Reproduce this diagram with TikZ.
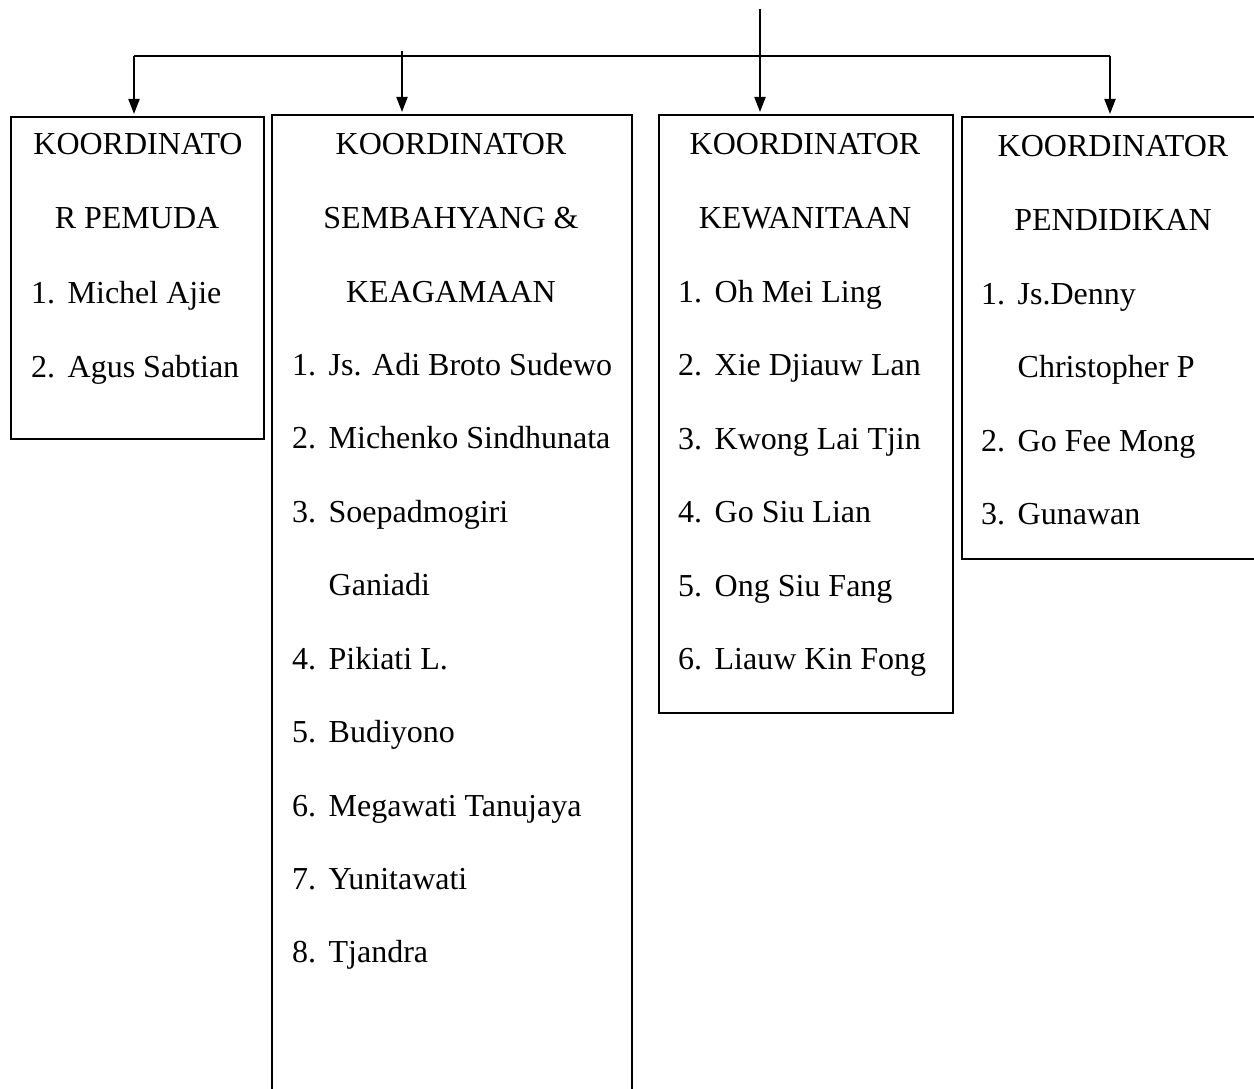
\documentclass[tikz,border=0pt]{standalone}
\usepackage{fontspec}
\setmainfont{Liberation Serif}
\usetikzlibrary{arrows.meta}
\begin{document}
\begin{tikzpicture}[x=1pt,y=-1pt,
  box/.style={draw,line width=1.8pt,anchor=north west,inner sep=0pt},
  conn/.style={line width=2pt},
  arr/.style={line width=2pt,-{Triangle[length=15pt,width=11pt]},shorten >=2pt},
  hd/.style={anchor=base,inner sep=0pt,font=\fontsize{32}{38}\selectfont},
  ln/.style={anchor=base west,inner sep=0pt,font=\fontsize{32}{38}\selectfont}]
\useasboundingbox (0,0) rectangle (1254,1089);
\clip (0,0) rectangle (1254,1089);
\newcommand{\itm}[2]{\makebox[36.5pt][l]{#1}#2}
% boxes
\node[box,minimum width=253pt,minimum height=322pt] (b1) at (10,116) {};
\node[box,minimum width=360pt,minimum height=1000pt] (b2) at (271,114) {};
\node[box,minimum width=294pt,minimum height=598pt] (b3) at (658,114) {};
\node[box,minimum width=320pt,minimum height=442pt] (b4) at (961,116) {};
% connectors
\coordinate (top) at (760,9);
\coordinate (hub) at (760,56);
\coordinate (hl) at (134,56);
\coordinate (hr) at (1110,56);
\coordinate (s2) at (402,51);
\draw[line width=1.5pt] (top) -- (hub);
\draw[conn] (hl) -- (hr);
\draw[arr] (hl) -- (hl |- b1.north);
\draw[arr] (s2) -- (s2 |- b2.north);
\draw[arr] (hub) -- (hub |- b3.north);
\draw[arr] (hr) -- (hr |- b4.north);
% box 1
\node[hd] (h11) at (138,155) {KOORDINATO};
\node[hd] (h12) at (137,229) {R PEMUDA};
\node[ln] (p11) at (31,303) {\itm{1.}{Michel Ajie}};
\node[ln] (p12) at (31,377) {\itm{2.}{Agus Sabtian}};
% box 2
\node[hd] (h21) at (451,155) {KOORDINATOR};
\node[hd] (h22) at (451,228.5) {SEMBAHYANG \&};
\node[hd] (h23) at (451,302) {KEAGAMAAN};
\node[ln] (p21) at (292,375) {\itm{1.}{Js. Adi Broto Sudewo}};
\node[ln] (p22) at (292,448.5) {\itm{2.}{Michenko Sindhunata}};
\node[ln] (p23) at (292,522) {\itm{3.}{Soepadmogiri}};
\node[ln] (p23b) at (292,595) {\itm{}{Ganiadi}};
\node[ln] (p24) at (292,669) {\itm{4.}{Pikiati L.}};
\node[ln] (p25) at (292,742) {\itm{5.}{Budiyono}};
\node[ln] (p26) at (292,816) {\itm{6.}{Megawati Tanujaya}};
\node[ln] (p27) at (292,889) {\itm{7.}{Yunitawati}};
\node[ln] (p28) at (292,962) {\itm{8.}{Tjandra}};
% box 3
\node[hd] (h31) at (805,155) {KOORDINATOR};
\node[hd] (h32) at (805,228.5) {KEWANITAAN};
\node[ln] (p31) at (678,302) {\itm{1.}{Oh Mei Ling}};
\node[ln] (p32) at (678,375) {\itm{2.}{Xie Djiauw Lan}};
\node[ln] (p33) at (678,449) {\itm{3.}{Kwong Lai Tjin}};
\node[ln] (p34) at (678,522) {\itm{4.}{Go Siu Lian}};
\node[ln] (p35) at (678,596) {\itm{5.}{Ong Siu Fang}};
\node[ln] (p36) at (678,669) {\itm{6.}{Liauw Kin Fong}};
% box 4
\node[hd] (h41) at (1113,157) {KOORDINATOR};
\node[hd] (h42) at (1113,230.5) {PENDIDIKAN};
\node[ln] (p41) at (981,304) {\itm{1.}{Js.Denny}};
\node[ln] (p41b) at (981,377) {\itm{}{Christopher P}};
\node[ln] (p42) at (981,451) {\itm{2.}{Go Fee Mong}};
\node[ln] (p43) at (981,524) {\itm{3.}{Gunawan}};
\end{tikzpicture}
\end{document}
